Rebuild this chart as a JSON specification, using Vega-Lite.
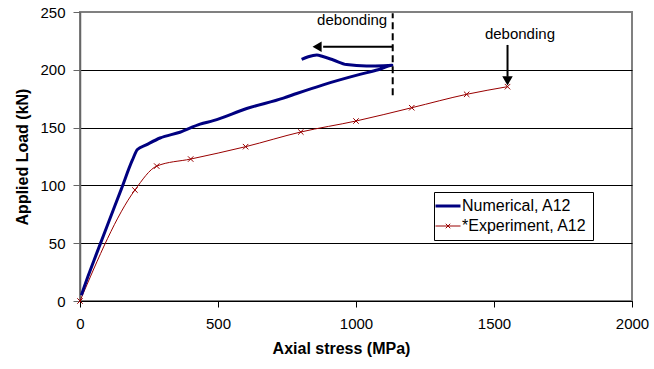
{
  "$schema": "https://vega.github.io/schema/vega-lite/v6.json",
  "width": 552,
  "height": 289,
  "autosize": {"type": "none"},
  "padding": {"left": 80, "top": 12, "right": 22, "bottom": 68},
  "background": "white",
  "config": {
    "font": "Liberation Sans",
    "view": {"stroke": "#808080", "strokeWidth": 2}
  },
  "datasets": {
    "curves": [
      {"series": "Numerical, A12", "idx": 1, "x": 5, "y": 5},
      {"series": "Numerical, A12", "idx": 2, "x": 30, "y": 22},
      {"series": "Numerical, A12", "idx": 3, "x": 60, "y": 41},
      {"series": "Numerical, A12", "idx": 4, "x": 100, "y": 66},
      {"series": "Numerical, A12", "idx": 5, "x": 150, "y": 97},
      {"series": "Numerical, A12", "idx": 6, "x": 190, "y": 122},
      {"series": "Numerical, A12", "idx": 7, "x": 208, "y": 131},
      {"series": "Numerical, A12", "idx": 8, "x": 240, "y": 135},
      {"series": "Numerical, A12", "idx": 9, "x": 290, "y": 141},
      {"series": "Numerical, A12", "idx": 10, "x": 362, "y": 146},
      {"series": "Numerical, A12", "idx": 11, "x": 435, "y": 153},
      {"series": "Numerical, A12", "idx": 12, "x": 483, "y": 156},
      {"series": "Numerical, A12", "idx": 13, "x": 604, "y": 166.5},
      {"series": "Numerical, A12", "idx": 14, "x": 737, "y": 175.5},
      {"series": "Numerical, A12", "idx": 15, "x": 785, "y": 179.5},
      {"series": "Numerical, A12", "idx": 16, "x": 881, "y": 187},
      {"series": "Numerical, A12", "idx": 17, "x": 1014, "y": 196},
      {"series": "Numerical, A12", "idx": 18, "x": 1080, "y": 200},
      {"series": "Numerical, A12", "idx": 19, "x": 1130, "y": 204},
      {"series": "Numerical, A12", "idx": 20, "x": 1100, "y": 203.5},
      {"series": "Numerical, A12", "idx": 21, "x": 1038, "y": 203.3},
      {"series": "Numerical, A12", "idx": 22, "x": 966, "y": 204.5},
      {"series": "Numerical, A12", "idx": 23, "x": 918, "y": 208.5},
      {"series": "Numerical, A12", "idx": 24, "x": 880, "y": 211.5},
      {"series": "Numerical, A12", "idx": 25, "x": 858, "y": 212.8},
      {"series": "Numerical, A12", "idx": 26, "x": 827, "y": 211.3},
      {"series": "Numerical, A12", "idx": 27, "x": 803, "y": 209},
      {"series": "*Experiment, A12", "idx": 1, "x": 0, "y": 0},
      {"series": "*Experiment, A12", "idx": 2, "x": 199, "y": 96},
      {"series": "*Experiment, A12", "idx": 3, "x": 278, "y": 116.7},
      {"series": "*Experiment, A12", "idx": 4, "x": 401, "y": 122.8},
      {"series": "*Experiment, A12", "idx": 5, "x": 600, "y": 133.5},
      {"series": "*Experiment, A12", "idx": 6, "x": 800, "y": 146.2},
      {"series": "*Experiment, A12", "idx": 7, "x": 1000, "y": 155.7},
      {"series": "*Experiment, A12", "idx": 8, "x": 1202, "y": 167.2},
      {"series": "*Experiment, A12", "idx": 9, "x": 1401, "y": 178.8},
      {"series": "*Experiment, A12", "idx": 10, "x": 1549, "y": 185.4}
    ],
    "arrows": [
      {"x": 881, "x2": 1133, "y": 220, "y2": 220},
      {"x": 1549, "x2": 1549, "y": 221.5, "y2": 194}
    ],
    "dash": [{"x": 1133, "y": 178, "y2": 249}],
    "heads": [
      {"x": 859, "y": 220, "dir": "left"},
      {"x": 1549, "y": 190.4, "dir": "down"}
    ],
    "labels": [
      {"x": 986, "y": 243, "text": "debonding"},
      {"x": 1594, "y": 231, "text": "debonding"}
    ]
  },
  "encoding": {
    "x": {
      "field": "x", "type": "quantitative",
      "scale": {"domain": [0, 2000], "nice": false, "zero": false},
      "axis": {
        "title": "Axial stress (MPa)",
        "values": [0, 500, 1000, 1500, 2000],
        "format": "d",
        "labelFlush": false,
        "grid": false,
        "domainColor": "black", "domainWidth": 1,
        "tickColor": "black", "tickSize": 6,
        "labelFontSize": 15, "labelColor": "black", "labelPadding": 9,
        "labelFont": "Liberation Sans",
        "titleFontSize": 16, "titleFontWeight": "bold", "titleColor": "black",
        "titleFont": "Liberation Sans",
        "titlePadding": 9, "titleX": 261
      }
    },
    "y": {
      "field": "y", "type": "quantitative",
      "scale": {"domain": [0, 250], "nice": false, "zero": false},
      "axis": {
        "title": "Applied Load (kN)",
        "values": [0, 50, 100, 150, 200, 250],
        "format": "d",
        "labelFlush": false,
        "grid": true,
        "gridColor": {"condition": {"test": "datum.value >= 250", "value": "#808080"}, "value": "black"},
        "gridWidth": 1,
        "domainColor": "#666666", "domainWidth": 1.5,
        "tickColor": "#666666", "tickSize": 7,
        "labelFontSize": 15, "labelColor": "black", "labelPadding": 8,
        "labelFont": "Liberation Sans",
        "titleFontSize": 16, "titleFontWeight": "bold", "titleColor": "black",
        "titleFont": "Liberation Sans",
        "titlePadding": 9
      }
    }
  },
  "layer": [
    {
      "data": {"name": "curves"},
      "transform": [{"filter": "datum.series === '*Experiment, A12'"}],
      "mark": {"type": "line", "interpolate": "monotone", "strokeWidth": 1},
      "encoding": {
        "order": {"field": "idx", "type": "quantitative"},
        "color": {
          "field": "series", "type": "nominal",
          "scale": {"domain": ["Numerical, A12", "*Experiment, A12"], "range": ["#000080", "#990000"]},
          "legend": {
            "title": null,
            "orient": "none", "legendX": 354, "legendY": 180,
            "strokeColor": "black", "fillColor": "white",
            "padding": 6, "rowPadding": 4,
            "symbolType": "stroke", "symbolSize": 625, "symbolStrokeWidth": 2,
            "labelFontSize": 16, "labelColor": "black", "labelFont": "Liberation Sans",
            "labelOffset": 6,
            "encode": {
              "symbols": {
                "update": {
                  "strokeWidth": {"signal": "datum.value === 'Numerical, A12' ? 3 : 1"},
                  "shape": {"signal": "datum.value === 'Numerical, A12' ? 'stroke' : 'M-1,0L1,0M-0.18,-0.18L0.18,0.18M-0.18,0.18L0.18,-0.18'"}
                }
              }
            }
          }
        }
      }
    },
    {
      "data": {"name": "curves"},
      "transform": [{"filter": "datum.series === 'Numerical, A12'"}],
      "mark": {"type": "line", "strokeWidth": 3, "strokeJoin": "round", "interpolate": "monotone"},
      "encoding": {
        "order": {"field": "idx", "type": "quantitative"},
        "color": {"field": "series", "type": "nominal"}
      }
    },
    {
      "data": {"name": "curves"},
      "transform": [{"filter": "datum.series === '*Experiment, A12'"}],
      "mark": {"type": "point", "shape": "M-1,-1L1,1M-1,1L1,-1", "filled": false, "stroke": "#990000", "strokeWidth": 1, "size": 30, "opacity": 1}
    },
    {
      "data": {"name": "dash"},
      "mark": {"type": "rule", "color": "black", "strokeWidth": 2, "strokeDash": [7, 4]},
      "encoding": {"y2": {"field": "y2"}}
    },
    {
      "data": {"name": "arrows"},
      "mark": {"type": "rule", "color": "black", "strokeWidth": 2},
      "encoding": {"x2": {"field": "x2"}, "y2": {"field": "y2"}}
    },
    {
      "data": {"name": "heads"},
      "transform": [{"filter": "datum.dir === 'left'"}],
      "mark": {"type": "point", "shape": "triangle-left", "filled": true, "color": "black", "size": 110, "opacity": 1}
    },
    {
      "data": {"name": "heads"},
      "transform": [{"filter": "datum.dir === 'down'"}],
      "mark": {"type": "point", "shape": "triangle-down", "filled": true, "color": "black", "size": 110, "opacity": 1}
    },
    {
      "data": {"name": "labels"},
      "mark": {"type": "text", "fontSize": 15, "font": "Liberation Sans", "color": "black", "baseline": "middle", "align": "center"},
      "encoding": {"text": {"field": "text"}}
    }
  ]
}
